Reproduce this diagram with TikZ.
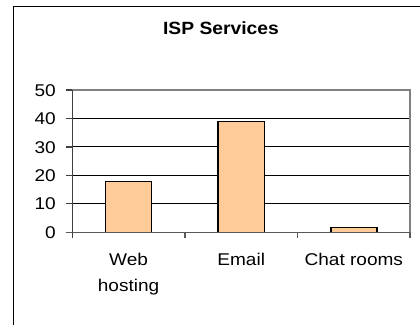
\documentclass[tikz,border=0pt]{standalone}
\usepackage{fontspec}
\setmainfont{Liberation Sans}
\newcommand{\stretchtext}[2][1.12]{\scalebox{#1}[1]{#2}}
\definecolor{barfill}{HTML}{FFCC99}
\definecolor{framegray}{HTML}{808080}
\begin{document}
\begin{tikzpicture}[x=1pt,y=-1pt,
  lbl/.style={inner sep=0pt,font=\fontsize{17}{20}\selectfont},
  grid/.style={line width=0.9pt,black},
  bar/.style={draw=black,line width=1.6pt,fill=barfill},
  axis/.style={line width=1.3pt,color=black!75},
  border/.style={line width=1.8pt,framegray}]
\useasboundingbox (0,0) rectangle (420,324);
\fill[white] (0,0) rectangle (420,324);
% outer chart frame (only left and top edges fall inside the page)
\draw[line width=1pt] (13,330) -- (13,6) -- (430,6);
% title
\node[lbl,anchor=base,font=\fontsize{17.7}{20}\selectfont\bfseries] (title) at (221,34.3) {\stretchtext[1.09]{ISP Services}};
% horizontal grid lines at 10..40
\foreach \v in {10,20,30,40} {
  \draw[grid] (72.3,{232.3-2.846*\v}) -- (410,{232.3-2.846*\v});
}
% plot area border (top and right)
\draw[border] (72.3,90) -- (410,90) -- (410,232.3);
% bars
\draw[bar] (105.3,232.3) rectangle (151.3,181.4);
\draw[bar] (217.7,232.3) rectangle (264.3,121.3);
\draw[bar] (331,232.3) rectangle (377,227.4);
% axes with tick marks
\draw[axis] (72.3,90) -- (72.3,238);
\foreach \v in {0,10,...,50} {
  \draw[axis] (65.7,{232.3-2.846*\v}) -- (72.3,{232.3-2.846*\v});
}
\draw[axis,color=black!65] (65.7,232.3) -- (410,232.3);
\foreach \x in {184.9,297.4,410} {
  \draw[axis,color=black!65] (\x,232.3) -- (\x,238);
}
% value axis labels
\foreach \v in {0,10,...,50} {
  \node[lbl,anchor=base east] (y\v) at (56,{232.3-2.846*\v+6.1}) {\stretchtext{\v}};
}
% category labels
\node[lbl,anchor=base] (web1) at (128.6,265.5) {\stretchtext{Web}};
\node[lbl,anchor=base] (web2) at (128.6,291) {\stretchtext{hosting}};
\node[lbl,anchor=base] (email) at (241.2,265.5) {\stretchtext{Email}};
\node[lbl,anchor=base] (chat) at (353.8,265.5) {\stretchtext{Chat rooms}};
\end{tikzpicture}
\end{document}
